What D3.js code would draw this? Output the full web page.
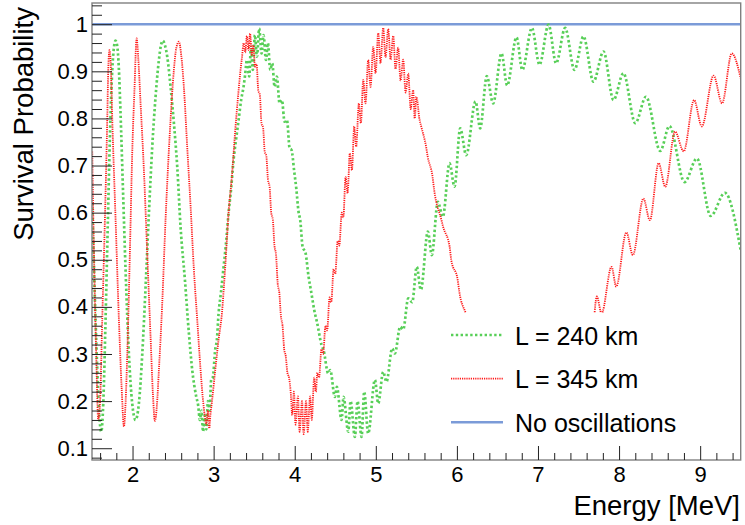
<!DOCTYPE html>
<html>
<head>
<meta charset="utf-8">
<script src="https://cdnjs.cloudflare.com/ajax/libs/d3/7.8.5/d3.min.js"></script>
<style>
  body { margin: 0; background: #fff; }
  svg { display: block; font-family: "Liberation Sans", Arial, Helvetica, sans-serif; }
</style>
</head>
<body>
<div id="viz"></div>
<script>
// survival probability vs energy
const green240 = [
  [1.503, 0.62], [1.53, 0.45], [1.56, 0.29], [1.59, 0.17], [1.614, 0.135], [1.639, 0.195],
  [1.667, 0.372], [1.696, 0.585], [1.721, 0.761], [1.75, 0.903], [1.77, 0.95], [1.79, 0.965],
  [1.81, 0.955], [1.83, 0.91], [1.852, 0.811], [1.881, 0.655], [1.914, 0.478], [1.955, 0.30],
  [1.996, 0.195], [2.037, 0.16], [2.078, 0.195], [2.12, 0.30], [2.161, 0.443], [2.202, 0.599],
  [2.243, 0.74], [2.284, 0.846], [2.325, 0.924], [2.35, 0.955], [2.374, 0.965], [2.40, 0.955],
  [2.428, 0.931], [2.469, 0.867], [2.51, 0.79], [2.551, 0.698], [2.592, 0.57], [2.646, 0.457],
  [2.695, 0.344], [2.736, 0.266], [2.785, 0.21], [2.81, 0.19], [2.83, 0.16], [2.85, 0.18],
  [2.87, 0.135], [2.89, 0.17], [2.91, 0.14], [2.93, 0.2], [2.95, 0.18], [2.97, 0.245],
  [2.99, 0.25], [3.02, 0.31], [3.04, 0.33], [3.061, 0.386], [3.09, 0.43], [3.123, 0.485],
  [3.15, 0.53], [3.184, 0.599], [3.215, 0.65], [3.246, 0.712], [3.28, 0.76], [3.308, 0.797],
  [3.34, 0.84], [3.369, 0.867], [3.39, 0.895], [3.41, 0.924], [3.439, 0.889], [3.46, 0.952],
  [3.484, 0.903], [3.509, 0.977], [3.534, 0.931], [3.562, 0.991], [3.591, 0.938], [3.616, 0.977],
  [3.645, 0.924], [3.669, 0.96], [3.698, 0.903], [3.723, 0.917], [3.752, 0.867], [3.78, 0.889],
  [3.813, 0.832], [3.842, 0.839], [3.875, 0.793], [3.904, 0.797], [3.937, 0.737], [3.961, 0.733],
  [3.994, 0.687], [4.019, 0.652], [4.047, 0.602], [4.068, 0.584], [4.097, 0.528], [4.134, 0.514],
  [4.171, 0.464], [4.199, 0.436], [4.249, 0.386], [4.273, 0.369], [4.331, 0.319], [4.356, 0.308],
  [4.413, 0.259], [4.438, 0.266], [4.495, 0.209], [4.52, 0.23], [4.578, 0.16], [4.602, 0.209],
  [4.66, 0.135], [4.689, 0.2], [4.742, 0.124], [4.775, 0.2], [4.824, 0.124], [4.857, 0.22],
  [4.906, 0.131], [4.989, 0.245], [5.03, 0.195], [5.091, 0.262], [5.132, 0.241], [5.202, 0.312],
  [5.235, 0.301], [5.301, 0.358], [5.338, 0.352], [5.40, 0.418], [5.449, 0.41], [5.505, 0.485],
  [5.556, 0.436], [5.642, 0.56], [5.691, 0.51], [5.765, 0.623], [5.827, 0.591], [5.909, 0.705],
  [5.971, 0.655], [6.041, 0.779], [6.115, 0.722], [6.23, 0.836], [6.287, 0.779], [6.369, 0.89],
  [6.447, 0.832], [6.55, 0.938], [6.62, 0.87], [6.735, 0.972], [6.807, 0.903], [6.925, 0.992],
  [7.019, 0.914], [7.13, 0.999], [7.224, 0.917], [7.335, 0.992], [7.45, 0.903], [7.561, 0.974],
  [7.684, 0.878], [7.808, 0.942], [7.931, 0.839], [8.054, 0.896], [8.2, 0.79], [8.332, 0.846],
  [8.508, 0.731], [8.621, 0.784], [8.807, 0.665], [8.961, 0.715], [9.13, 0.593], [9.305, 0.642],
  [9.5, 0.52]
];

// null = part hidden behind the legend box
const red345 = [
  [1.503, 0.73], [1.524, 0.514], [1.552, 0.30], [1.577, 0.16], [1.60, 0.2], [1.626, 0.372],
  [1.659, 0.585], [1.688, 0.797], [1.70, 0.9], [1.715, 0.945], [1.73, 0.92], [1.75, 0.797],
  [1.791, 0.585], [1.832, 0.372], [1.865, 0.23], [1.894, 0.146], [1.915, 0.2], [1.935, 0.30],
  [1.967, 0.514], [1.996, 0.726], [2.025, 0.867], [2.05, 0.97], [2.07, 0.93], [2.099, 0.832],
  [2.14, 0.69], [2.181, 0.514], [2.222, 0.337], [2.251, 0.216], [2.276, 0.158], [2.30, 0.19],
  [2.325, 0.266], [2.366, 0.407], [2.407, 0.585], [2.457, 0.761], [2.51, 0.903], [2.539, 0.949],
  [2.572, 0.963], [2.60, 0.935], [2.633, 0.867], [2.674, 0.74], [2.716, 0.613], [2.757, 0.478],
  [2.798, 0.372], [2.839, 0.266], [2.87, 0.2], [2.89, 0.17], [2.91, 0.15], [2.93, 0.18],
  [2.946, 0.142], [2.96, 0.17], [2.98, 0.2], [3.02, 0.266], [3.061, 0.33], [3.102, 0.386],
  [3.143, 0.485], [3.184, 0.599], [3.225, 0.676], [3.267, 0.776], [3.308, 0.86], [3.33, 0.9],
  [3.35, 0.93], [3.37, 0.96], [3.39, 0.94], [3.41, 0.975], [3.43, 0.945], [3.45, 0.98],
  [3.47, 0.935], [3.49, 0.955], [3.51, 0.91], [3.53, 0.915], [3.55, 0.86], [3.57, 0.85],
  [3.59, 0.79], [3.61, 0.78], [3.63, 0.73], [3.65, 0.72], [3.67, 0.67], [3.69, 0.655],
  [3.71, 0.60], [3.73, 0.585], [3.75, 0.53], [3.77, 0.51], [3.79, 0.45], [3.81, 0.43],
  [3.83, 0.38], [3.85, 0.36], [3.87, 0.31], [3.89, 0.295], [3.91, 0.26], [3.93, 0.25],
  [3.95, 0.22], [3.97, 0.17], [3.99, 0.22], [4.01, 0.15], [4.04, 0.21], [4.06, 0.135],
  [4.09, 0.2], [4.11, 0.13], [4.14, 0.2], [4.16, 0.135], [4.19, 0.21], [4.21, 0.16],
  [4.24, 0.25], [4.26, 0.22], [4.28, 0.26], [4.30, 0.25], [4.33, 0.31], [4.35, 0.30],
  [4.38, 0.36], [4.40, 0.35], [4.43, 0.42], [4.45, 0.41], [4.48, 0.48], [4.50, 0.47],
  [4.53, 0.54], [4.55, 0.53], [4.58, 0.60], [4.60, 0.59], [4.627, 0.676], [4.652, 0.641],
  [4.68, 0.726], [4.705, 0.69], [4.734, 0.783], [4.758, 0.74], [4.791, 0.832], [4.816, 0.79],
  [4.845, 0.882], [4.873, 0.832], [4.906, 0.924], [4.935, 0.867], [4.968, 0.952], [4.997, 0.896],
  [5.03, 0.981], [5.058, 0.917], [5.091, 0.992], [5.12, 0.93], [5.153, 0.99], [5.182, 0.925],
  [5.215, 0.975], [5.243, 0.905], [5.276, 0.95], [5.305, 0.88], [5.338, 0.925], [5.367, 0.855],
  [5.40, 0.895], [5.43, 0.82], [5.46, 0.86], [5.48, 0.80], [5.50, 0.846], [5.54, 0.797],
  [5.56, 0.783], [5.62, 0.74], [5.64, 0.719], [5.70, 0.676], [5.72, 0.648], [5.81, 0.584],
  [5.83, 0.57], [5.91, 0.528], [5.93, 0.50], [6.01, 0.457], [6.03, 0.432], [6.11, 0.386],
  [6.16, 0.36],
  null,
  [7.69, 0.37], [7.726, 0.422], [7.784, 0.386], [7.907, 0.485], [7.965, 0.443], [8.09, 0.558],
  [8.17, 0.51], [8.30, 0.63], [8.38, 0.584], [8.488, 0.705], [8.57, 0.655], [8.69, 0.772],
  [8.797, 0.73], [8.925, 0.839], [9.02, 0.783], [9.166, 0.891], [9.27, 0.832], [9.39, 0.938],
  [9.5, 0.885]
];

const noOsc = [[1.5, 1], [9.5, 1]];

const yMajor = [0.1, 0.2, 0.3, 0.4, 0.5, 0.6, 0.7, 0.8, 0.9, 1];
const xMajor = [2, 3, 4, 5, 6, 7, 8, 9];
const legendLabels = ["L = 240 km", "L = 345 km", "No oscillations"];

const W = 745, H = 525;
const margin = {top: 3, right: 4.3, bottom: 65, left: 92};

const svg = d3.select("#viz").append("svg")
  .attr("width", W)
  .attr("height", H);

const x = d3.scaleLinear()
  .domain([1.5, 9.5])
  .range([margin.left, W - margin.right]);

const y = d3.scaleLinear()
  .domain([0.075, 1.045])
  .range([H - margin.bottom, margin.top]);

const line = d3.line()
  .defined(d => d !== null)
  .x(d => x(d[0]))
  .y(d => y(d[1]))
  .curve(d3.curveMonotoneX);

svg.append("defs").append("clipPath").attr("id", "plot")
  .append("rect")
  .attr("x", margin.left).attr("y", margin.top)
  .attr("width", W - margin.left - margin.right)
  .attr("height", H - margin.top - margin.bottom);

const plot = svg.append("g").attr("clip-path", "url(#plot)");

const greenCol = "#58cf58", redCol = "#ff1a1a", blueCol = "#7b9bd8";

plot.append("path")
  .datum(noOsc)
  .attr("d", line)
  .attr("fill", "none")
  .attr("stroke", blueCol)
  .attr("stroke-width", 2.5);

plot.append("path")
  .datum(green240)
  .attr("d", line)
  .attr("fill", "none")
  .attr("stroke", greenCol)
  .attr("stroke-width", 2.7)
  .attr("stroke-dasharray", "2.4 2.4");

plot.append("path")
  .datum(red345)
  .attr("d", line)
  .attr("fill", "none")
  .attr("stroke", redCol)
  .attr("stroke-width", 1.8)
  .attr("stroke-dasharray", "1.2 1");

// legend (white box hides the curves below it)
const lg = svg.append("g");
lg.append("rect")
  .attr("x", 440).attr("y", 313)
  .attr("width", 296).attr("height", 132)
  .attr("fill", "#fff");

const legendStyles = [
  {stroke: greenCol, w: 2.7, dash: "2.4 2.4"},
  {stroke: redCol, w: 1.8, dash: "1.2 1"},
  {stroke: blueCol, w: 2.5, dash: null}
];

legendLabels.forEach((lab, i) => {
  const yy = 335 + i * 43.6;
  lg.append("line")
    .attr("x1", 451).attr("x2", 503)
    .attr("y1", yy).attr("y2", yy)
    .attr("stroke", legendStyles[i].stroke)
    .attr("stroke-width", legendStyles[i].w)
    .attr("stroke-dasharray", legendStyles[i].dash);
  lg.append("text")
    .attr("x", 515)
    .attr("y", yy + 9.5)
    .attr("font-size", 25)
    .attr("fill", "#000")
    .text(lab);
});

// frame
svg.append("rect")
  .attr("x", margin.left).attr("y", margin.top)
  .attr("width", W - margin.left - margin.right)
  .attr("height", H - margin.top - margin.bottom)
  .attr("fill", "none")
  .attr("stroke", "#808080")
  .attr("stroke-width", 1.4);

// axes
const yMinor = d3.range(4, 53).filter(i => i % 5 !== 0).map(i => i * 0.02);
const xMinor = d3.range(8, 48).filter(i => i % 5 !== 0).map(i => i * 0.2);

svg.append("g")
  .attr("transform", `translate(${margin.left},0)`)
  .call(d3.axisLeft(y).tickValues(yMinor).tickSizeInner(-10).tickSizeOuter(0).tickFormat(""))
  .call(g => g.select(".domain").remove())
  .call(g => g.selectAll("line").attr("stroke", "#222"));

svg.append("g")
  .attr("transform", `translate(${margin.left},0)`)
  .call(d3.axisLeft(y).tickValues(yMajor).tickSizeInner(-20).tickSizeOuter(0).tickPadding(4)
    .tickFormat(d => d === 1 ? "1" : d3.format(".1f")(d)))
  .call(g => g.select(".domain").remove())
  .call(g => g.selectAll("line").attr("stroke", "#222"))
  .call(g => g.selectAll("text").attr("font-size", 22).attr("fill", "#000")
    .attr("font-family", "'Liberation Sans', Arial, sans-serif"));

const xb = H - margin.bottom;
svg.append("g")
  .attr("transform", `translate(0,${xb})`)
  .call(d3.axisBottom(x).tickValues(xMinor).tickSizeInner(-7).tickSizeOuter(0).tickFormat(""))
  .call(g => g.select(".domain").remove())
  .call(g => g.selectAll("line").attr("stroke", "#222"));

svg.append("g")
  .attr("transform", `translate(0,${xb})`)
  .call(d3.axisBottom(x).tickValues(xMajor).tickSizeInner(-14).tickSizeOuter(0).tickPadding(6))
  .call(g => g.select(".domain").remove())
  .call(g => g.selectAll("line").attr("stroke", "#222"))
  .call(g => g.selectAll("text").attr("font-size", 22).attr("fill", "#000")
    .attr("font-family", "'Liberation Sans', Arial, sans-serif"));

// axis titles
svg.append("text")
  .attr("x", W - 5)
  .attr("y", 515)
  .attr("text-anchor", "end")
  .attr("font-size", 27.5)
  .text("Energy [MeV]");

svg.append("text")
  .attr("transform", "rotate(-90)")
  .attr("x", -7)
  .attr("y", 33)
  .attr("text-anchor", "end")
  .attr("font-size", 27.5)
  .text("Survival Probability");
</script>
</body>
</html>
